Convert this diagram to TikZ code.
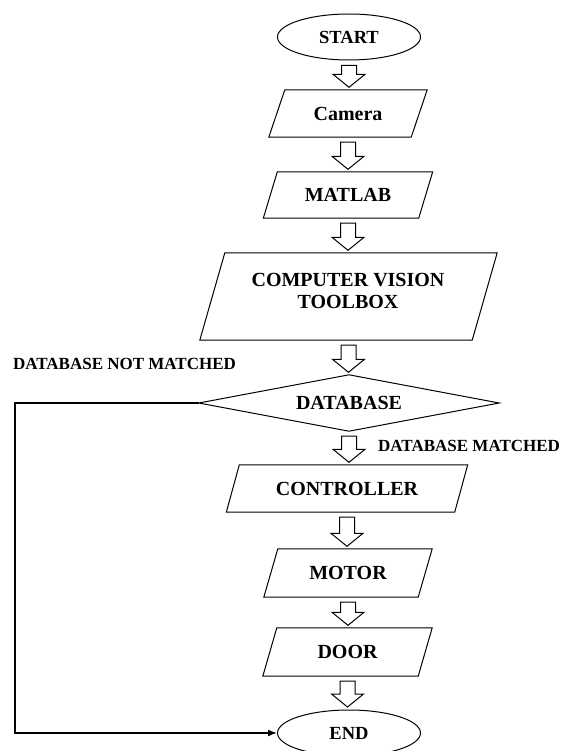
\documentclass[tikz,border=0pt]{standalone}
\usepackage{fontspec}
\setmainfont{Liberation Serif}
\usetikzlibrary{shapes.geometric,arrows.meta,calc}
\tikzset{
  shapeline/.style={draw=black, line width=1pt},
  boxtext/.style={font=\bfseries\fontsize{20}{22}\selectfont, text=black},
  termtext/.style={font=\bfseries\fontsize{18.5}{20}\selectfont, text=black},
  lbl/.style={font=\bfseries\fontsize{17}{19}\selectfont, text=black, inner sep=0pt},
  pbox/.style={boxtext, inner sep=0pt, draw=none},
  term/.style={shapeline, termtext, ellipse, inner sep=0pt, minimum width=143pt, minimum height=46pt},
  blockarrow/.style={draw=black, line width=1pt, fill=white, line join=miter},
  loopline/.style={draw=black, line width=1.6pt, -{Latex[length=9pt,width=7pt]}},
}
% parallelogram drawn round a named node: #1 name, #2 slant (pt)
\newcommand\parabox[2]{%
  \draw[shapeline] ([xshift={#2*0.5pt}]#1.north west) -- ([xshift={#2*0.5pt}]#1.north east)
    -- ([xshift={-#2*0.5pt}]#1.south east) -- ([xshift={-#2*0.5pt}]#1.south west) -- cycle;}
% diamond drawn round a named node
\newcommand\diabox[1]{%
  \draw[shapeline] (#1.north) -- (#1.east) -- (#1.south) -- (#1.west) -- cycle;}
% hollow block arrow from node #1 to node #2
\newcommand\flowarrow[2]{%
  \draw[blockarrow] let \p1=(#1.south), \p2=(#2.north) in
    ({\x1-7.5pt},{\y1-5pt}) -- ({\x1+7.5pt},{\y1-5pt}) -- ({\x1+7.5pt},{\y2+15.5pt})
    -- ({\x1+16pt},{\y2+15.5pt}) -- ({\x1},{\y2+2.5pt}) -- ({\x1-16pt},{\y2+15.5pt})
    -- ({\x1-7.5pt},{\y2+15.5pt}) -- cycle;}
\begin{document}
\begin{tikzpicture}[x=1pt,y=-1pt]
\useasboundingbox (0,0) rectangle (565,751);
\clip (0,0) rectangle (565,751);
\fill[white] (0,0) rectangle (565,751);

\node[term] (start) at (349,37) {START};
\node[pbox, minimum width=142pt, minimum height=47pt] (cam) at (348,113.5) {Camera};
\node[pbox, minimum width=155pt, minimum height=46pt] (mat) at (348,195) {MATLAB};
\node[pbox, minimum width=272pt, minimum height=87pt] (cv) at (348.5,296.5) {};
\node[boxtext, align=center, inner sep=0pt] (cvt) at (348,291) {COMPUTER VISION\\TOOLBOX};
\node[pbox, minimum width=300pt, minimum height=56pt] (db) at (349,403) {DATABASE};
\node[pbox, minimum width=228pt, minimum height=47pt] (ctl) at (347,488.5) {CONTROLLER};
\node[pbox, minimum width=154pt, minimum height=48pt] (mot) at (348,573) {MOTOR};
\node[pbox, minimum width=155pt, minimum height=48pt] (door) at (347.5,652) {DOOR};
\node[term] (end) at (349,733) {END};

\parabox{cam}{16}
\parabox{mat}{14}
\parabox{cv}{25}
\diabox{db}
\parabox{ctl}{13}
\parabox{mot}{14}
\parabox{door}{14}

\node[lbl] (nm) at (124.5,364) {DATABASE NOT MATCHED};
\node[lbl, anchor=west] (m) at (378,446) {DATABASE MATCHED};

\flowarrow{start}{cam}
\flowarrow{cam}{mat}
\flowarrow{mat}{cv}
\flowarrow{cv}{db}
\flowarrow{db}{ctl}
\flowarrow{ctl}{mot}
\flowarrow{mot}{door}
\flowarrow{door}{end}

\coordinate (lc) at (15,0);
\draw[loopline] (db.west) -- (db.west -| lc) |- (end.west);
\end{tikzpicture}
\end{document}
